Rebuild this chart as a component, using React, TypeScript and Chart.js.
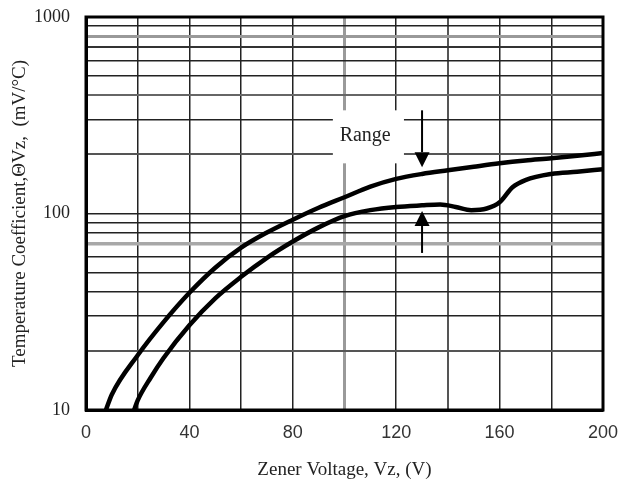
import React, { useEffect, useRef } from "react";
import { Chart, registerables } from "chart.js";

Chart.register(...registerables);

// Upper curve of the range (max temperature coefficient)
const upperX = [7.7, 10, 20, 30, 40, 50, 60, 70, 80, 90, 100, 110, 120, 130, 140, 150, 160, 170, 180, 190, 200];
const upperY = [10, 12, 19, 28, 39.5, 53, 67, 80, 93, 107, 121, 137, 150, 159, 166, 173, 180, 186, 191, 197, 203];

// Lower curve of the range (min temperature coefficient)
const lowerX = [18.6, 20, 25, 30, 40, 50, 60, 70, 80, 90, 100, 110, 120, 130, 137, 143, 149, 155, 160, 165, 170, 180, 190, 200];
const lowerY = [10, 11.2, 14.6, 18.4, 27, 37, 47.6, 59.5, 72, 85, 97, 104, 108, 110, 111, 108, 104, 106, 114, 136, 148, 159, 163, 168];

const xTickLabels = [0, 40, 80, 120, 160, 200];
const yGridValues = [10, 20, 30, 40, 50, 60, 70, 80, 90, 100, 200, 300, 400, 500, 600, 700, 800, 900, 1000];
const yTickLabels = [10, 100, 1000];

const xTitle = "Zener Voltage, Vz, (V)";
const yTitle = "Temperature Coefficient,\u0398Vz,  (mV/\u00B0C)";
const rangeLabel = "Range";

// Annotation anchors in data units
const rangeArrowX = 130;
const downArrow = [335, 172];
const upArrow = [63, 103];
const rangeBox = { x0: 95.5, x1: 123, y0: 335, y1: 180 };
const rangeText = { x: 108, y: 248 };

const grayY: Record<number, [string, number]> = {
  70: ["#a8a8a8", 3.5],
  20: ["#555", 2],
  200: ["#555", 2],
  400: ["#666", 2],
  800: ["#999", 3],
  700: ["#333", 2],
};
const grayX: Record<number, [string, number]> = {
  100: ["#9a9a9a", 3],
  140: ["#555", 2],
};

const annotationPlugin = {
  id: "rangeAnnotation",
  beforeDatasetsDraw(chart: any) {
    const { ctx, scales } = chart;
    const x = scales.x;
    const y = scales.y;
    ctx.save();
    ctx.fillStyle = "#fff";
    const bx0 = x.getPixelForValue(rangeBox.x0);
    const bx1 = x.getPixelForValue(rangeBox.x1);
    const by0 = y.getPixelForValue(rangeBox.y0);
    const by1 = y.getPixelForValue(rangeBox.y1);
    ctx.fillRect(bx0, by0, bx1 - bx0, by1 - by0);
    ctx.fillStyle = "#222";
    ctx.font = "20px 'Liberation Serif'";
    ctx.textAlign = "center";
    ctx.textBaseline = "middle";
    ctx.fillText(rangeLabel, x.getPixelForValue(rangeText.x), y.getPixelForValue(rangeText.y));
    ctx.restore();
  },
  afterDatasetsDraw(chart: any) {
    const { ctx, scales, chartArea } = chart;
    const x = scales.x;
    const y = scales.y;
    const ax = x.getPixelForValue(rangeArrowX);
    const drawArrow = (fromV: number, toV: number) => {
      const y0 = y.getPixelForValue(fromV);
      const y1 = y.getPixelForValue(toV);
      const dir = y1 > y0 ? 1 : -1;
      const headLen = 15;
      const headHalf = 7.5;
      ctx.beginPath();
      ctx.moveTo(ax, y0);
      ctx.lineTo(ax, y1 - dir * headLen);
      ctx.lineWidth = 2;
      ctx.strokeStyle = "#000";
      ctx.stroke();
      ctx.beginPath();
      ctx.moveTo(ax, y1);
      ctx.lineTo(ax - headHalf, y1 - dir * headLen);
      ctx.lineTo(ax + headHalf, y1 - dir * headLen);
      ctx.closePath();
      ctx.fillStyle = "#000";
      ctx.fill();
    };
    ctx.save();
    drawArrow(downArrow[0], downArrow[1]);
    drawArrow(upArrow[0], upArrow[1]);
    ctx.lineWidth = 3;
    ctx.strokeStyle = "#000";
    ctx.strokeRect(chartArea.left, chartArea.top, chartArea.right - chartArea.left, chartArea.bottom - chartArea.top);
    ctx.restore();
  },
};

export default function App() {
  const canvasRef = useRef<HTMLCanvasElement | null>(null);

  useEffect(() => {
    document.body.style.margin = "0";
    const canvas = canvasRef.current;
    if (!canvas) return;
    const chart = new Chart(canvas, {
      type: "line",
      data: {
        datasets: [
          {
            label: "upper",
            data: upperX.map((v, i) => ({ x: v, y: upperY[i] })),
            borderColor: "#000",
            borderWidth: 4.5,
            pointRadius: 0,
            cubicInterpolationMode: "monotone",
            fill: false,
          },
          {
            label: "lower",
            data: lowerX.map((v, i) => ({ x: v, y: lowerY[i] })),
            borderColor: "#000",
            borderWidth: 4.5,
            pointRadius: 0,
            cubicInterpolationMode: "monotone",
            fill: false,
          },
        ],
      },
      options: {
        animation: false,
        responsive: false,
        devicePixelRatio: 1,
        layout: { padding: { top: 17, right: 27, left: 0, bottom: 0 }, autoPadding: false },
        plugins: { legend: { display: false }, tooltip: { enabled: false } },
        scales: {
          x: {
            type: "linear",
            min: 0,
            max: 200,
            afterFit: (s: any) => {
              s.height = 77;
              s.paddingLeft = 0;
              s.paddingRight = 0;
            },
            border: { display: true, color: "#000", width: 3 },
            grid: {
              drawTicks: false,
              color: (c: any) => (grayX[c.tick?.value] ? grayX[c.tick.value][0] : "#222"),
              lineWidth: (c: any) => (grayX[c.tick?.value] ? grayX[c.tick.value][1] : 1.5),
            },
            ticks: {
              stepSize: 20,
              autoSkip: false,
              maxRotation: 0,
              padding: 12,
              color: "#333",
              font: { family: "'Liberation Sans'", size: 18 },
              callback: (v: any) => (xTickLabels.includes(Number(v)) ? String(v) : ""),
            },
            title: {
              display: true,
              text: xTitle,
              color: "#222",
              font: { family: "'Liberation Serif'", size: 19 },
              padding: { top: 4, bottom: 6 },
            },
          },
          y: {
            type: "logarithmic",
            min: 10,
            max: 1000,
            afterFit: (s: any) => {
              s.width = 86;
              s.paddingTop = 0;
              s.paddingBottom = 0;
            },
            afterBuildTicks: (s: any) => {
              s.ticks = yGridValues.map((v) => ({ value: v }));
            },
            border: { display: true, color: "#000", width: 3 },
            grid: {
              drawTicks: false,
              color: (c: any) => (grayY[c.tick?.value] ? grayY[c.tick.value][0] : "#222"),
              lineWidth: (c: any) => (grayY[c.tick?.value] ? grayY[c.tick.value][1] : 1.5),
            },
            ticks: {
              autoSkip: false,
              padding: 16,
              color: "#222",
              font: { family: "'Liberation Serif'", size: 18 },
              callback: (v: any) => (yTickLabels.includes(Number(v)) ? String(v) : ""),
            },
            title: {
              display: true,
              text: yTitle,
              color: "#222",
              font: { family: "'Liberation Serif'", size: 19 },
              padding: { top: 9, bottom: 0 },
            },
          },
        },
      },
      plugins: [annotationPlugin],
    });
    return () => chart.destroy();
  }, []);

  return (
    <div style={{ width: 630, height: 487, background: "#fff" }}>
      <canvas ref={canvasRef} width={630} height={487} style={{ display: "block" }} />
    </div>
  );
}
